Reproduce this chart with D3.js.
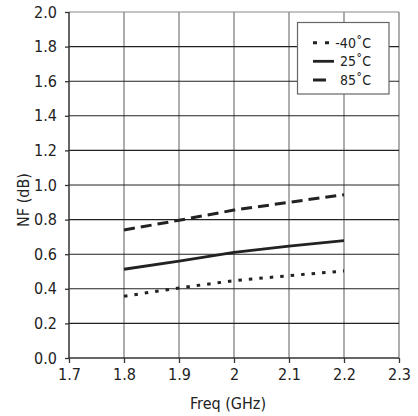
<!DOCTYPE html>
<html>
<head>
<meta charset="utf-8">
<script src="https://cdn.jsdelivr.net/npm/d3@7"></script>
<style>
  body { margin: 0; background: #fff; }
  text { font-family: "Liberation Sans Narrow", "DejaVu Sans Condensed", "Liberation Sans", sans-serif; fill: #222; }
</style>
</head>
<body>
<svg id="chart" width="418" height="416"></svg>
<script>
// data
const freqs = [1.8, 1.9, 2.0, 2.1, 2.2];
const nfCold = [0.357, 0.405, 0.447, 0.476, 0.503];   // -40°C
const nfRoom = [0.513, 0.560, 0.610, 0.647, 0.678];   // 25°C
const nfHot  = [0.740, 0.796, 0.855, 0.900, 0.944];   // 85°C
const seriesNames = ["-40˚C", "25˚C", "85˚C"];
const xTicks = [1.7, 1.8, 1.9, 2.0, 2.1, 2.2, 2.3];
const yTicks = [0, 0.2, 0.4, 0.6, 0.8, 1.0, 1.2, 1.4, 1.6, 1.8, 2.0];

const pLeft = 69, pRight = 399, pTop = 12, pBottom = 358;
const svg = d3.select("#chart");

const x = d3.scaleLinear().domain([1.7, 2.3]).range([pLeft, pRight]);
const y = d3.scaleLinear().domain([0, 2]).range([pBottom, pTop]);

// grid
svg.append("g").selectAll("line").data(xTicks.slice(1)).enter().append("line")
    .attr("x1", d => x(d)).attr("x2", d => x(d))
    .attr("y1", pTop).attr("y2", pBottom)
    .attr("stroke", "#777").attr("stroke-width", 1.2);
svg.append("g").selectAll("line").data(yTicks.slice(1, -1)).enter().append("line")
    .attr("x1", pLeft).attr("x2", pRight)
    .attr("y1", d => y(d)).attr("y2", d => y(d))
    .attr("stroke", "#222").attr("stroke-width", 1.1);
svg.append("line").attr("x1", pLeft).attr("x2", pRight).attr("y1", pTop).attr("y2", pTop)
    .attr("stroke", "#888").attr("stroke-width", 1.2);

// axes
const xAxis = svg.append("g").attr("transform", `translate(0,${pBottom})`)
    .call(d3.axisBottom(x).tickValues(xTicks).tickSize(5).tickPadding(6)
        .tickFormat(d => d === 2 ? "2" : d3.format(".1f")(d)));
const yAxis = svg.append("g").attr("transform", `translate(${pLeft},0)`)
    .call(d3.axisLeft(y).tickValues(yTicks).tickSize(4).tickPadding(8)
        .tickFormat(d3.format(".1f")));
[xAxis, yAxis].forEach(a => {
    a.select(".domain").attr("stroke", "#333").attr("stroke-width", 1.5);
    a.selectAll(".tick line").attr("stroke", "#333").attr("stroke-width", 1.3);
    a.selectAll("text").style("font-size", "16px").attr("fill", "#222");
});
xAxis.select(".domain").attr("d", `M${pLeft},0H${pRight}`);
yAxis.select(".domain").attr("d", `M0,${pBottom}V${pTop}`);

// labels
svg.append("text").attr("x", 228).attr("y", 409).attr("text-anchor", "middle")
    .style("font-size", "16px").text("Freq (GHz)");
svg.append("text").attr("transform", "translate(29,200) rotate(-90)").attr("text-anchor", "middle")
    .style("font-size", "16px").text("NF (dB)");

// lines
const styles = [
    { data: nfCold, dash: "3.5,7", width: 3 },
    { data: nfRoom, dash: null, width: 2.8 },
    { data: nfHot, dash: "11,6", width: 3 }
];
const line = d3.line().x((d, i) => x(freqs[i])).y(d => y(d));
styles.forEach(s => {
    svg.append("path").datum(s.data)
        .attr("d", line)
        .attr("fill", "none").attr("stroke", "#222")
        .attr("stroke-width", s.width)
        .attr("stroke-dasharray", s.dash);
});

// legend
const lg = svg.append("g");
lg.append("rect").attr("x", 297.5).attr("y", 22.5).attr("width", 91.5).attr("height", 71.5)
    .attr("fill", "#fff").attr("stroke", "#666").attr("stroke-width", 1.2);
const rowY = [42.7, 61.3, 80];
const sampleLen = [18, 21, 13];
styles.forEach((s, i) => {
    lg.append("line").attr("x1", 313).attr("x2", 313 + sampleLen[i])
        .attr("y1", rowY[i]).attr("y2", rowY[i])
        .attr("stroke", "#222").attr("stroke-width", s.width)
        .attr("stroke-dasharray", i === 0 ? "4,8" : null);
    lg.append("text").attr("x", 371).attr("y", rowY[i] + 5).attr("text-anchor", "end")
        .style("font-size", "14px").text(seriesNames[i]);
});
</script>
</body>
</html>
